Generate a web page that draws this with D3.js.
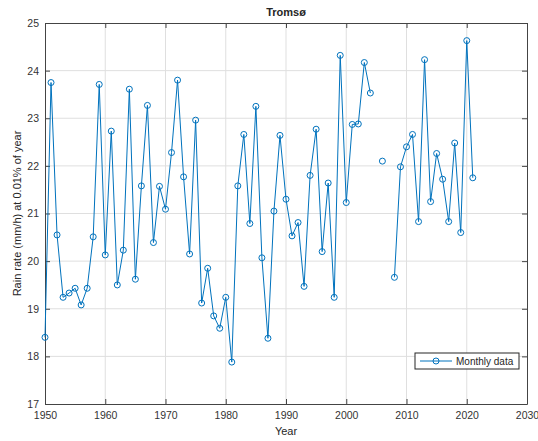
<!DOCTYPE html>
<html>
<head>
<meta charset="utf-8">
<script src="https://cdn.jsdelivr.net/npm/d3@7"></script>
<style>
  body { margin: 0; background: #fff; }
  svg { font-family: "Liberation Sans", Arial, sans-serif; }
  .grid line { stroke: #dfdfdf; stroke-width: 1; }
  .axis text { fill: #333; font-size: 10.5px; }
  .axis path, .axis line { stroke: #444; }
</style>
</head>
<body>
<svg width="538" height="441"></svg>
<script>
// years and yearly rain rate values (mm/h), null = missing
var years = d3.range(1950, 2022);
var rainRate = [
  18.40, 23.75, 20.55, 19.24, 19.33, 19.43, 19.08, 19.43, 20.51, 23.71,
  20.13, 22.73, 19.50, 20.23, 23.61, 19.62, 21.58, 23.27, 20.39, 21.57,
  21.09, 22.28, 23.80, 21.77, 20.15, 22.96, 19.12, 19.85, 18.85, 18.59,
  19.24, 17.88, 21.58, 22.66, 20.79, 23.25, 20.07, 18.38, 21.05, 22.64,
  21.30, 20.53, 20.81, 19.47, 21.80, 22.77, 20.20, 21.64, 19.24, 24.32,
  21.23, 22.87, 22.88, 24.17, 23.53, null, 22.10, null, 19.66, 21.98,
  22.40, 22.66, 20.83, 24.23, 21.25, 22.26, 21.72, 20.83, 22.48, 20.60,
  24.63, 21.75
];
var xTicks = [1950, 1960, 1970, 1980, 1990, 2000, 2010, 2020, 2030];
var yTicks = [17, 18, 19, 20, 21, 22, 23, 24, 25];

var data = years.map(function(y, i) { return {year: y, value: rainRate[i]}; });

var svg = d3.select("svg"),
    margin = {top: 23, right: 11, bottom: 37, left: 45},
    width = svg.attr("width") - margin.left - margin.right,
    height = svg.attr("height") - margin.top - margin.bottom,
    g = svg.append("g").attr("transform", "translate(" + margin.left + "," + margin.top + ")");

var x = d3.scaleLinear().domain([1950, 2030]).range([0, width]),
    y = d3.scaleLinear().domain([17, 25]).range([height, 0]);

var blue = "#0072BD";

//grid
g.append("g").attr("class", "grid")
  .selectAll("line.vx").data(xTicks.slice(1, -1)).enter().append("line")
  .attr("x1", function(d) { return x(d); }).attr("x2", function(d) { return x(d); })
  .attr("y1", 0).attr("y2", height);
g.append("g").attr("class", "grid")
  .selectAll("line.hy").data(yTicks.slice(1, -1)).enter().append("line")
  .attr("y1", function(d) { return y(d); }).attr("y2", function(d) { return y(d); })
  .attr("x1", 0).attr("x2", width);

//axes, ticks pointing inside like matlab
var tk = 5;
g.append("g").attr("class", "axis")
  .attr("transform", "translate(0," + height + ")")
  .call(d3.axisBottom(x).tickValues(xTicks).tickFormat(d3.format("d")).tickSizeInner(-tk).tickSizeOuter(0).tickPadding(8));
g.append("g").attr("class", "axis")
  .call(d3.axisLeft(y).tickValues(yTicks).tickSizeInner(-tk).tickSizeOuter(0).tickPadding(6));
g.append("g").attr("class", "axis")
  .call(d3.axisTop(x).tickValues(xTicks).tickSizeInner(-tk).tickSizeOuter(0).tickFormat(""));
g.append("g").attr("class", "axis")
  .attr("transform", "translate(" + width + ",0)")
  .call(d3.axisRight(y).tickValues(yTicks).tickSizeInner(-tk).tickSizeOuter(0).tickFormat(""));

//line
var line = d3.line()
  .defined(function(d) { return d.value !== null; })
  .x(function(d) { return x(d.year); })
  .y(function(d) { return y(d.value); });

g.append("path")
  .datum(data)
  .attr("fill", "none")
  .attr("stroke", blue)
  .attr("stroke-width", 1)
  .attr("d", line);

g.selectAll(".pt")
  .data(data.filter(function(d) { return d.value !== null; }))
  .enter().append("circle")
  .attr("class", "pt")
  .attr("cx", function(d) { return x(d.year); })
  .attr("cy", function(d) { return y(d.value); })
  .attr("r", 3)
  .attr("fill", "none")
  .attr("stroke", blue)
  .attr("stroke-width", 1);

//legend
var lg = g.append("g").attr("transform", "translate(" + (width - 112) + "," + (height - 51) + ")");
lg.append("rect").attr("width", 104).attr("height", 16)
  .attr("fill", "#fff").attr("stroke", "#262626").attr("stroke-width", 1);
lg.append("line").attr("x1", 5).attr("x2", 37).attr("y1", 8).attr("y2", 8)
  .attr("stroke", blue);
lg.append("circle").attr("cx", 21).attr("cy", 8).attr("r", 3)
  .attr("fill", "none").attr("stroke", blue);
lg.append("text").attr("x", 41).attr("y", 12)
  .style("font-size", "10px").attr("fill", "#262626").text("Monthly data");

//labels
svg.append("text")
  .attr("x", margin.left + width / 2).attr("y", 16)
  .attr("text-anchor", "middle")
  .style("font-size", "11px").style("font-weight", "bold").attr("fill", "#262626")
  .text("Tromsø");
svg.append("text")
  .attr("x", margin.left + width / 2).attr("y", 435)
  .attr("text-anchor", "middle")
  .style("font-size", "11px").attr("fill", "#262626")
  .text("Year");
svg.append("text")
  .attr("transform", "translate(21," + (margin.top + height / 2) + ") rotate(-90)")
  .attr("text-anchor", "middle")
  .style("font-size", "11px").attr("fill", "#262626")
  .text("Rain rate (mm/h) at 0.01% of year");
</script>
</body>
</html>
